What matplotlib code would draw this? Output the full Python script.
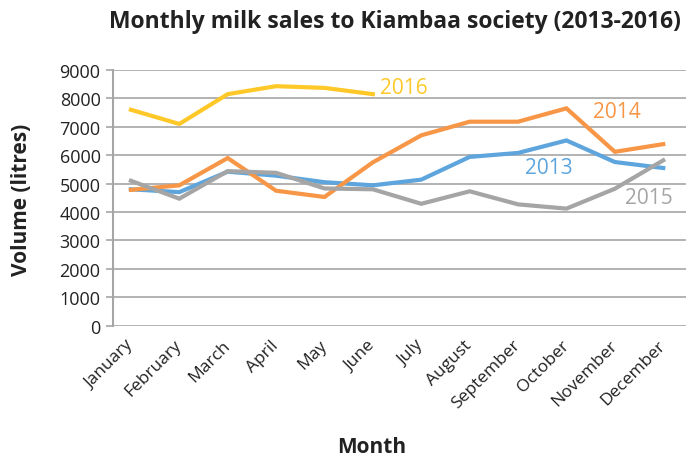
import matplotlib

matplotlib.use("Agg")
import matplotlib.pyplot as plt

months = ["January", "February", "March", "April", "May", "June", "July",
          "August", "September", "October", "November", "December"]
sales_2013 = [4800, 4700, 5420, 5280, 5050, 4940, 5140, 5940, 6080, 6520, 5760, 5550]
sales_2014 = [4780, 4940, 5900, 4750, 4530, 5750, 6700, 7180, 7180, 7650, 6120, 6390]
sales_2015 = [5100, 4470, 5440, 5380, 4830, 4800, 4290, 4730, 4270, 4120, 4820, 5820]
sales_2016 = [7600, 7100, 8150, 8430, 8370, 8150]
yticks = list(range(0, 9001, 1000))

colors = {"2013": "#5DA5DC", "2014": "#F79646", "2015": "#A5A5A5", "2016": "#FFC829"}

plt.rcParams["font.family"] = ["Open Sans", "DejaVu Sans"]

fig = plt.figure(figsize=(6.87, 4.64), dpi=100)
ax = fig.add_axes([0.1645, 0.296, 0.834, 0.551])

x = list(range(len(months)))
ax.plot(x, sales_2013, color=colors["2013"], lw=3, solid_joinstyle="miter")
ax.plot(x, sales_2014, color=colors["2014"], lw=3, solid_joinstyle="miter")
ax.plot(x, sales_2015, color=colors["2015"], lw=3, solid_joinstyle="miter")
ax.plot(x[:len(sales_2016)], sales_2016, color=colors["2016"], lw=3, solid_joinstyle="miter")

# inline series labels
ax.text(5.15, 8370, "2016", color=colors["2016"], fontsize=15, va="center")
ax.text(9.55, 7530, "2014", color=colors["2014"], fontsize=15, va="center")
ax.text(8.15, 5570, "2013", color=colors["2013"], fontsize=15, va="center")
ax.text(10.22, 4510, "2015", color=colors["2015"], fontsize=15, va="center")

ax.set_xlim(-0.37, 11.47)
ax.set_ylim(0, 9000)
ax.set_yticks(yticks)
ax.set_yticklabels([str(v) for v in yticks], fontsize=13, color="#222222")
ax.set_xticks(x)
ax.set_xticklabels(months, rotation=45, ha="right", va="center",
                   rotation_mode="anchor", fontsize=12.5, color="#222222")
ax.tick_params(axis="x", length=0, pad=12)
ax.tick_params(axis="y", length=5, color="#A6A6A6", width=1.2, pad=4)

ax.grid(axis="y", color="#A6A6A6", lw=1.2)
ax.set_axisbelow(True)
for side in ["top", "right", "bottom"]:
    ax.spines[side].set_visible(False)
ax.spines["left"].set_color("#A6A6A6")
ax.spines["left"].set_linewidth(1.5)

fig.text(0.575, 0.953, "Monthly milk sales to Kiambaa society (2013-2016)",
         ha="center", va="center", fontsize=16.5, fontweight="bold", color="#222222")
fig.text(0.032, 0.57, "Volume (litres)", rotation=90, ha="center", va="center",
         fontsize=15, fontweight="bold", color="#222222")
fig.text(0.541, 0.035, "Month", ha="center", va="center",
         fontsize=15, fontweight="bold", color="#222222")

fig.savefig("out.png", dpi=100)
